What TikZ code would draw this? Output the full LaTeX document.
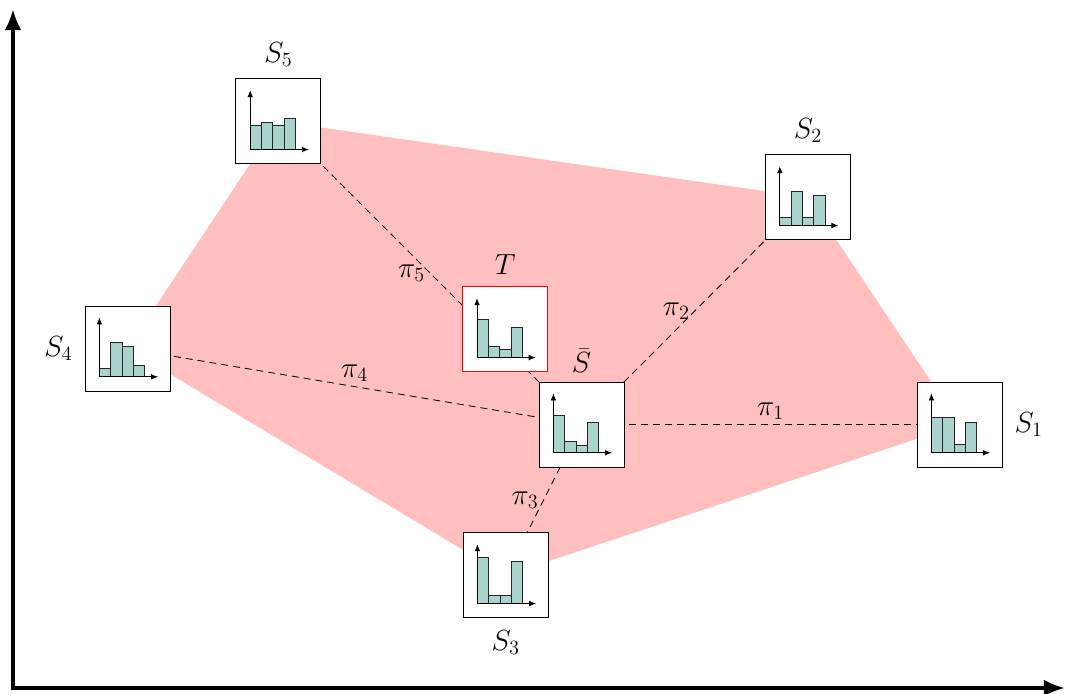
\documentclass[tikz,border=0pt]{standalone}
\usetikzlibrary{arrows.meta}
\definecolor{barfill}{RGB}{170,211,206}
\definecolor{hullfill}{RGB}{255,191,191}
\tikzset{
  >=latex,
  label distance=5pt,
}
\tikzstyle{axes}=[line width=2.8pt,{Latex[length=15pt,width=12pt]}-{Latex[length=15pt,width=12pt]}]
\tikzstyle{every node}=[font=\huge]
\tikzstyle{hbox}=[draw,fill=white,line width=0.7pt,minimum size=2.125cm,inner sep=0pt]
\tikzstyle{link}=[dash pattern=on 5pt off 3.5pt,line width=0.6pt]
\tikzstyle{bar}=[draw=black!85,fill=barfill,line width=0.6pt]
\tikzstyle{haxis}=[-{Latex[length=5pt,width=4pt]},line width=0.6pt]
% small histogram inside a box: node, then four bar heights
\newcommand{\histo}[5]{%
  \begin{scope}[shift={(#1)},x=0.025cm,y=0.025cm]
    \foreach \h [count=\i from 0] in {#2,#3,#4,#5}
      \draw[bar] (-28.2+11.35*\i,-28.2) rectangle ++(11.35,\h);
    \draw[haxis] (-28.2,-28.2) -- (-28.2,31.2);
    \draw[haxis] (-28.2,-28.2) -- (30.5,-28.2);
  \end{scope}}
\begin{document}
\begin{tikzpicture}
    \useasboundingbox (0,0) rectangle (26.625,17.325);
    \coordinate (orig) at (0.325,0.125);
    \coordinate (ytop) at (0.325,17.1);
    \coordinate (xend) at (26.625,0.125);
    % positions of the boxes
    \coordinate (p1) at (23.99,6.71);
    \coordinate (p2) at (20.2,12.39);
    \coordinate (p3) at (12.64,2.94);
    \coordinate (p4) at (3.19,8.61);
    \coordinate (p5) at (6.96,14.29);
    \coordinate (pm) at (14.54,6.71);
    \fill[hullfill] (p1)--(p2)--(p5)--(p4)--(p3)--cycle;
    \draw[link] (pm)--(p1) node[midway,above]{$\pi_1$};
    \draw[link] (pm)--(p2) node[midway,left]{$\pi_2$};
    \draw[link] (pm)--(p3) node[midway,left]{$\pi_3$};
    \draw[link] (pm)--(p4) node[midway,above]{$\pi_4$};
    \draw[link] (pm)--(p5) node[midway,left]{$\pi_5$};
    \node[hbox,label=right:$S_1$] (s1) at (p1) {};
    \node[hbox,label=above:$S_2$] (s2) at (p2) {};
    \node[hbox,label=below:$S_3$] (s3) at (p3) {};
    \node[hbox,label=left:$S_4$] (s4) at (p4) {};
    \node[hbox,label=above:$S_5$] (s5) at (p5) {};
    \node[hbox,label={[label distance=3pt]above:$\bar{S}$}] (sm) at (pm) {};
    \node[hbox,draw=red,label=above:$T$] (t) at (12.63,9.09) {};
    \histo{s1}{35}{35}{8}{30.7}
    \histo{s2}{7.7}{33.7}{7.7}{30.3}
    \histo{s3}{46}{8.3}{8.3}{42}
    \histo{s4}{8}{34.3}{30}{11.3}
    \histo{s5}{23.7}{27.3}{23.7}{31}
    \histo{sm}{37.7}{11}{7.7}{30}
    \histo{t}{38}{11.3}{7.7}{30}
    \draw[axes] (ytop)--(orig)--(xend);
\end{tikzpicture}
\end{document}
